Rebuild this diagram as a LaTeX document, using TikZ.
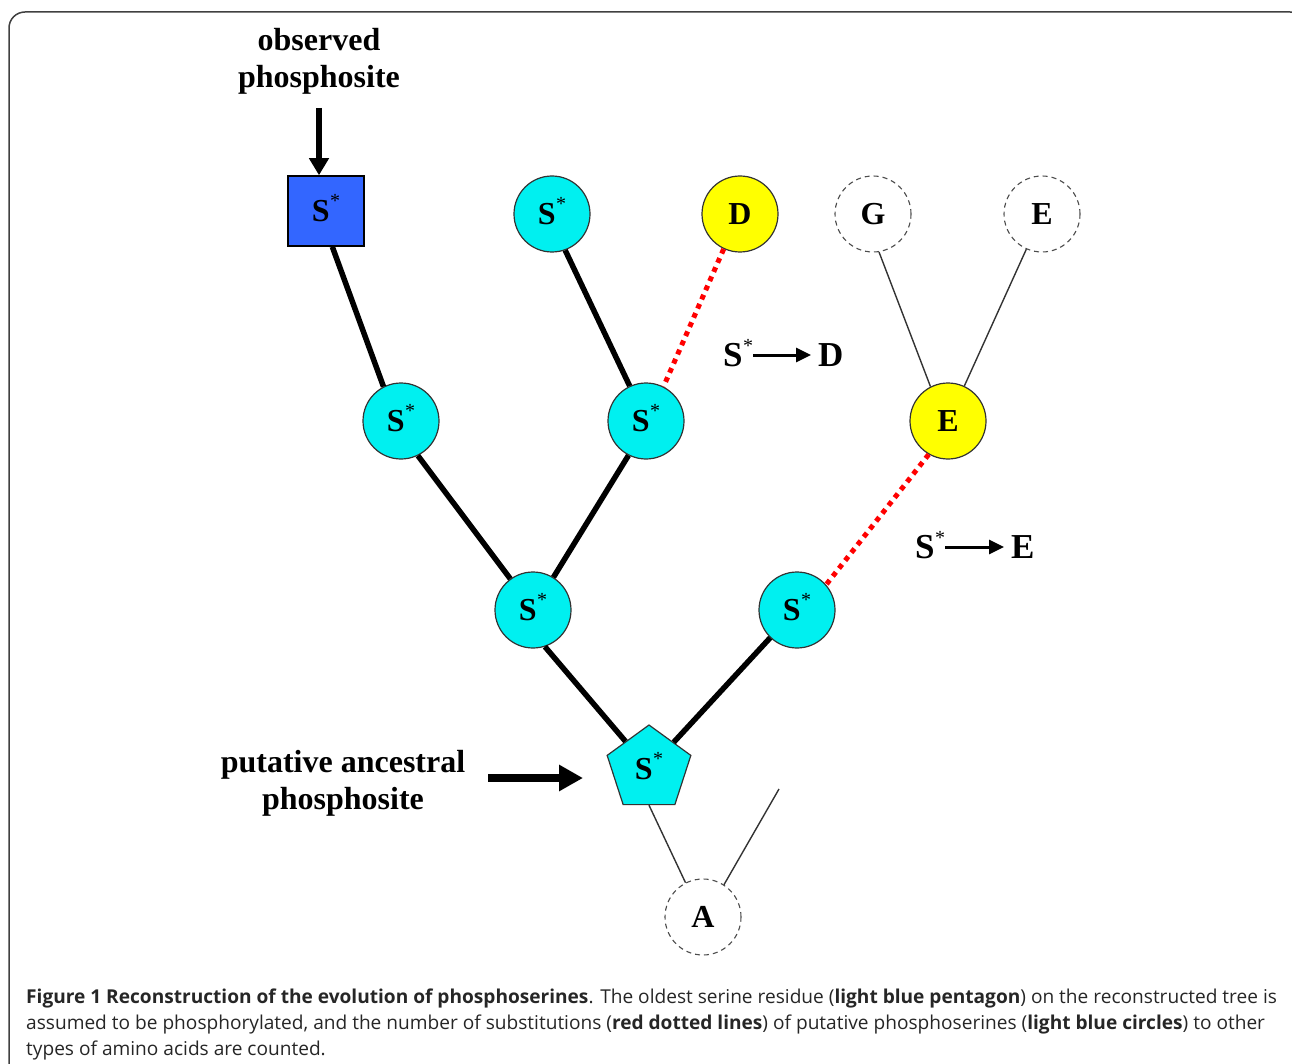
\documentclass[tikz,border=0pt]{standalone}
\usepackage{fontspec}
\setmainfont{Liberation Serif}
\newfontfamily\capfont{Open Sans}
\usetikzlibrary{shapes.geometric,arrows.meta}
\definecolor{aqua}{RGB}{0,240,240}
\definecolor{sqblue}{RGB}{51,102,255}
\definecolor{leafyellow}{RGB}{255,255,0}
\definecolor{subred}{RGB}{255,0,0}
\tikzset{
  res/.style={circle,draw=black!80,line width=1.2pt,minimum size=76pt,inner sep=0pt,
    font=\fontsize{32}{36}\selectfont\bfseries},
  phos/.style={res,fill=aqua},
  subst/.style={res,fill=leafyellow},
  ghost/.style={res,draw=black!70,dashed,dash pattern=on 5pt off 4pt,line width=1.1pt},
  branch/.style={line width=5.5pt,black},
  thinbranch/.style={line width=1.4pt,black!80},
  redsub/.style={line width=5pt,subred,dash pattern=on 5pt off 5pt},
  lbl/.style={font=\fontsize{32}{37}\selectfont\bfseries,align=center},
  chg/.style={font=\fontsize{35}{40}\selectfont\bfseries,inner sep=0pt},
  chgarrow/.style={line width=3pt,-{Triangle[length=15pt,width=14pt]},shorten >=7pt},
}
% serine with the phosphorylation star
\newcommand{\Sst}{S\kern0.5pt\smash{\raisebox{13.5pt}{\fontsize{20}{20}\selectfont\mdseries *}}}
\begin{document}
\begin{tikzpicture}[x=1pt,y=-1pt]
\useasboundingbox (0,0) rectangle (1292,1064);
\begin{scope}
\clip (0,0) rectangle (1292,1064);
\draw[line width=1.5pt,black!75,rounded corners=16pt] (9,12) rectangle (1306,1090);
\end{scope}

% tree nodes
\node[draw=black,line width=1.5pt,fill=sqblue,minimum width=76pt,minimum height=70pt,inner sep=0pt,
  font=\fontsize{32}{36}\selectfont\bfseries] (sq) at (326,211) {\Sst};
\node[phos] (top) at (552,214) {\Sst};
\node[subst] (d) at (740,214) {D};
\node[ghost] (g) at (873,214) {G};
\node[ghost] (e0) at (1042,214) {E};
\node[phos] (s1) at (401,421) {\Sst};
\node[phos] (s2) at (646,421) {\Sst};
\node[subst] (e1) at (948,421) {E};
\node[phos] (s3) at (533,610) {\Sst};
\node[phos] (s4) at (797,610) {\Sst};
\node[regular polygon,regular polygon sides=5,draw=black!80,line width=1.2pt,fill=aqua,
  minimum size=88pt,inner sep=0pt,font=\fontsize{32}{36}\selectfont\bfseries] (pent) at (649,769) {\Sst};
\node[ghost] (a) at (703,917) {A};
\coordinate (free) at (779,789);

% branches
\draw[branch] (sq.-80) -- (s1.117);
\draw[branch] (top.-70) -- (s2.115);
\draw[redsub] (d.-115) -- (s2.63);
\draw[branch] (s1.-64) -- (s3.126);
\draw[branch] (s2.-117) -- (s3.58);
\draw[branch] (s3.-72) -- (pent);
\draw[branch] (s4.-134) -- (pent);
\draw[redsub] (e1.-120) -- (s4.41);
\draw[thinbranch] (g.-81) -- (e1.117);
\draw[thinbranch] (e0.-114) -- (e1.65);
\draw[thinbranch] (pent.south) -- (a.117);
\draw[thinbranch] (a.57) -- (free);

% labels
\node[lbl] (obs) at (319,61) {observed\\phosphosite};
\coordinate (obsarrow) at (319,108);
\draw[line width=6pt,-{Triangle[length=17pt,width=19pt]}] (obsarrow) -- (obsarrow |- sq.north);
\node[lbl] (anc) at (343,783) {putative ancestral\\phosphosite};
\coordinate (ancarrow) at (488,778);
\coordinate (anctip) at (583,778);
\draw[line width=8pt,-{Triangle[length=24pt,width=25pt]}] (ancarrow) -- (anctip);

% substitutions
\node[chg,anchor=west] (sd) at (723,355) {\Sst};
\node[chg,anchor=west] (dd) at (818,355) {D};
\draw[chgarrow] (sd.east) -- (sd.east -| dd.west);
\node[chg,anchor=west] (se) at (915,547) {\Sst};
\node[chg,anchor=west] (ee) at (1011,547) {E};
\draw[chgarrow] (se.east) -- (se.east -| ee.west);

% caption
\node[anchor=north west,inner sep=0pt,align=left,text=black!85,
  font=\capfont\fontsize{19.1}{26}\selectfont] (cap) at (26,989)
  {\textbf{Figure 1 Reconstruction of the evolution of phosphoserines}. The oldest serine residue (\textbf{light blue pentagon}) on the reconstructed tree is\\
   assumed to be phosphorylated, and the number of substitutions (\textbf{red dotted lines}) of putative phosphoserines (\textbf{light blue circles}) to other\\
   types of amino acids are counted.};
\end{tikzpicture}
\end{document}
